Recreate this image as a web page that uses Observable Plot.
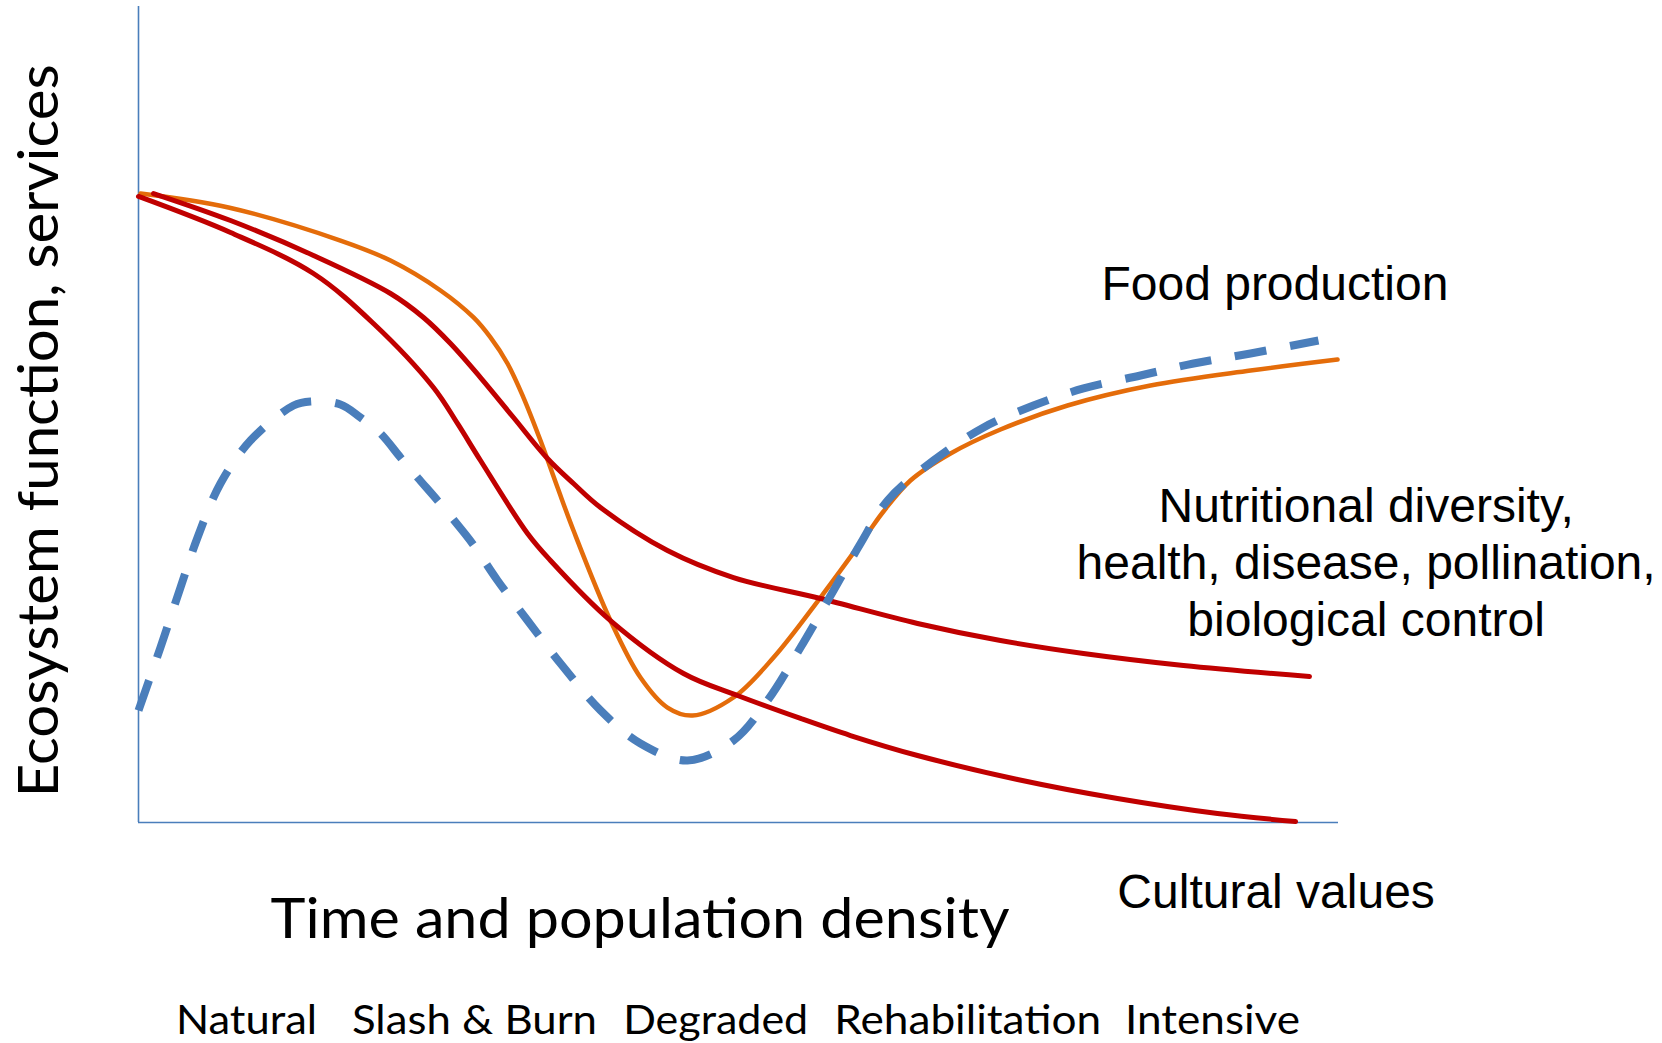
<!DOCTYPE html>
<html>
<head>
<meta charset="utf-8">
<script src="https://cdn.jsdelivr.net/npm/d3@7"></script>
<script src="https://cdn.jsdelivr.net/npm/@observablehq/plot@0.6"></script>
<style>
  html, body { margin: 0; padding: 0; background: #ffffff; }
  #chart svg { display: block; }
</style>
</head>
<body>
<div id="chart"></div>
<script>
// Conceptual curves: x = time & population density (0-100), y = ecosystem function (0-100)
const foodProduction = [
  [0.17,77.08],[7.5,75.37],[16.83,71.32],[21.0,68.87],[25.17,65.2],[27.92,61.89],
  [29.33,59.44],[30.75,56.25],[32.08,52.08],[33.5,46.81],[34.92,41.05],[36.25,35.78],
  [39.33,24.75],[41.83,17.77],[44.08,14.09],[46.17,13.11],[49.58,15.32],[52.92,20.22],
  [56.83,27.57],[60.75,35.42],[62.08,38.11],[64.33,41.91],[67.67,45.22],[71.83,48.16],
  [77.42,51.1],[84.33,53.55],[92.67,55.39],[99.92,56.74]
];
const nutritionalDiversity = [
  [1.25,77.08],[7.67,73.77],[14.58,69.49],[21.0,64.83],[23.75,61.89],[26.0,58.7],
  [28.5,54.53],[31.25,49.63],[34.08,44.61],[36.25,41.54],[38.5,38.6],[44.08,33.33],
  [49.58,30.02],[56.83,27.45],[64.92,24.39],[71.83,22.3],[78.75,20.71],[87.08,19.24],
  [97.58,17.89]
];
const culturalValues = [
  [0,76.72],[7.67,72.3],[14.58,67.28],[19.58,61.15],[24.58,53.31],[26.58,48.9],
  [28.5,44.36],[32.42,35.42],[34.33,32.11],[39.33,24.75],[45.42,18.26],[49.92,15.56],
  [55.17,12.75],[59.33,10.66],[64.92,8.21],[73.25,5.27],[81.58,2.94],[89.92,1.1],
  [96.42,0.12]
];
const dashedSeries = [
  [0,13.73],[1.83,21.45],[3.5,28.8],[4.92,34.93],[6.83,41.54],[9.33,46.81],[12.92,51.1],
  [14.33,51.59],[16.83,51.23],[18.5,49.63],[20.17,47.67],[21.83,44.73],[23.25,42.28],
  [24.92,39.46],[26.17,37.25],[27.83,34.19],[29.92,29.66],[32.42,24.75],[35.17,19.49],
  [38.5,13.73],[41.83,9.68],[45.75,7.6],[49.58,10.05],[52.42,14.95],[55.17,21.45],
  [57.92,28.43],[60.17,34.19],[62.42,39.46],[66.25,44.36],[70.42,48.41],[74.58,51.1],
  [78.75,53.19],[83.5,54.78],[87.92,56.25],[92.67,57.48],[98.33,59.07]
];

const stageLabels = ["Natural", "Slash & Burn", "Degraded", "Rehabilitation", "Intensive"];
const stagePositions = [9.0, 28.0, 48.1, 69.1, 89.5];

const seriesLabels = [
  {text: "Food production", x: 94.7, y: 64.0},
  {text: "Nutritional diversity,\nhealth, disease, pollination,\nbiological control", x: 102.3, y: 22.8},
  {text: "Cultural values", x: 94.8, y: -10.5}
];
const xTitle = "Time and population density";
const yTitle = "Ecosystem function, services";

const axisColor = "#4A7EBB";
const calibriLike = "Lato, 'Open Sans', sans-serif";
const arialLike = "'Liberation Sans', Arial, sans-serif";

const stages = stageLabels.map((s, i) => ({text: s, x: stagePositions[i]}));

const chart = Plot.plot({
  width: 1662,
  height: 1043,
  x: {domain: [0, 100], range: [138, 1338], axis: null},
  y: {domain: [0, 100], range: [822, 6], axis: null},
  style: {background: "#ffffff", overflow: "visible"},
  marks: [
    Plot.ruleX([0], {y1: 0, y2: 100, stroke: axisColor, strokeWidth: 1.6}),
    Plot.ruleY([0], {x1: 0, x2: 100, stroke: axisColor, strokeWidth: 1.6}),
    Plot.line(foodProduction, {stroke: "#E46C0A", strokeWidth: 4.5, curve: "catmull-rom"}),
    Plot.line(nutritionalDiversity, {stroke: "#C00000", strokeWidth: 5, curve: "catmull-rom"}),
    Plot.line(culturalValues, {stroke: "#C00000", strokeWidth: 5, curve: "catmull-rom"}),
    Plot.line(dashedSeries, {stroke: "#4A7EBB", strokeWidth: 8, strokeDasharray: "32,24",
      strokeLinecap: "butt", curve: "catmull-rom"}),
    Plot.text(seriesLabels, {x: "x", y: "y", text: "text", fontFamily: arialLike, fontSize: 48,
      textAnchor: "middle", lineAnchor: "bottom", lineHeight: 1.19, fill: "#000"}),
    Plot.text([xTitle], {x: 41.8, y: -14.1, text: d => d, fontFamily: calibriLike, fontSize: 56,
      textAnchor: "middle", lineAnchor: "bottom", fill: "#000"}),
    Plot.text([yTitle], {x: -6.75, y: 48.0, text: d => d, fontFamily: calibriLike, fontSize: 57,
      rotate: -90, textAnchor: "middle", lineAnchor: "bottom", fill: "#000"}),
    Plot.text(stages, {x: "x", y: -25.9, text: "text", fontFamily: calibriLike, fontSize: 40,
      textAnchor: "middle", lineAnchor: "bottom", fill: "#000"})
  ]
});

document.getElementById("chart").appendChild(chart);

// Fit the Calibri-like texts to the widths in the reference
const targetWidths = {
  "Time and population density": 739,
  "Ecosystem function, services": 733,
  "Natural": 141,
  "Slash & Burn": 245,
  "Degraded": 185,
  "Rehabilitation": 267,
  "Intensive": 175
};
chart.querySelectorAll("text").forEach(t => {
  const w = targetWidths[t.textContent];
  if (w) {
    t.setAttribute("textLength", w);
    t.setAttribute("lengthAdjust", "spacingAndGlyphs");
  }
});
</script>
</body>
</html>
